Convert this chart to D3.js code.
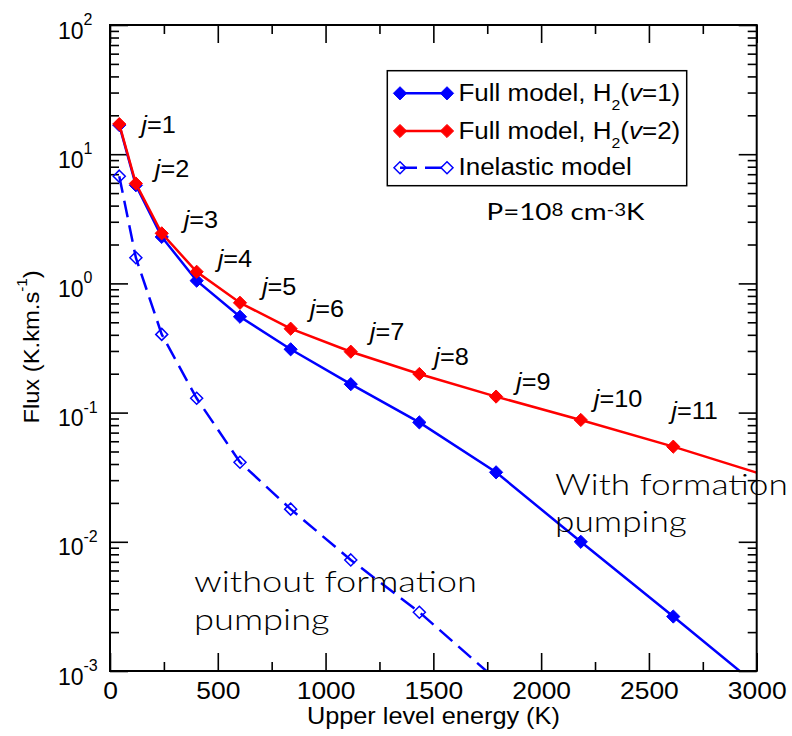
<!DOCTYPE html>
<html><head><meta charset="utf-8">
<script src="https://cdn.jsdelivr.net/npm/d3@7"></script>
<style>body{margin:0;background:#fff}svg{display:block}</style>
</head><body>
<svg id="c" width="792" height="736"></svg>
<script>
// ---------------- data ----------------
const energyK       = [43, 120, 240, 402, 603, 838, 1117, 1435, 1791, 2184, 2613, 3078];
const fluxFullV1    = [16.8, 5.75, 2.29, 1.05, 0.552, 0.309, 0.166, 0.084, 0.0345, 0.0100, 0.00264, 0.00061];
const fluxFullV2    = [17.1, 5.93, 2.44, 1.23, 0.708, 0.446, 0.296, 0.199, 0.133, 0.0877, 0.0545, 0.0312];
const fluxInelastic = [6.76, 1.58, 0.403, 0.129, 0.0413, 0.0179, 0.00724, 0.00285, 0.00086];
const jLevels       = [1, 2, 3, 4, 5, 6, 7, 8, 9, 10, 11];
const xTickValues   = [0, 500, 1000, 1500, 2000, 2500, 3000];
const yDecades      = [1e-3, 1e-2, 1e-1, 1e0, 1e1, 1e2];
const xLabel = "Upper level energy (K)";

// ---------------- layout ----------------
const L = 110, R = 756.7, T = 25, B = 671;
const HELV = "'Liberation Sans', Arial, Helvetica, sans-serif";
const GOTH = "Lato, 'Open Sans', sans-serif";
const jLabelOffsets = [[22,9],[19,-7],[22,-5],[21,-5],[22,-8],[19,-12],[19,-12],[15,-9],[20,-7],[13,-13],[-2,-28]];

const x = d3.scaleLinear().domain([0, 3000]).range([L, R]);
const y = d3.scaleLog().domain([1e-3, 1e2]).range([B, T]);
const svg = d3.select("#c");

// rich text helper
function rich(parent, segs, o) {
  const t = parent.append("text")
    .attr("font-family", o.family || HELV)
    .attr("font-size", o.size)
    .attr("font-weight", o.weight || "normal")
    .attr("text-anchor", o.anchor || "start")
    .attr("fill", "#000")
    .attr("transform", `translate(${o.x},${o.y})${o.rot ? ` rotate(${o.rot})` : ""} scale(${o.sx || 1},1)`);
  let cur = 0;
  segs.forEach(s => {
    const shift = s.shift || 0;
    const ts = t.append("tspan").text(s.t).attr("dy", shift - cur);
    cur = shift;
    if (s.size) ts.attr("font-size", s.size);
    if (s.it) ts.attr("font-style", "italic");
  });
  return t;
}
function fit(t, o, target) {
  const w = t.node().getBBox().width;
  const sx = target / w;
  t.attr("transform", `translate(${o.x},${o.y}) scale(${sx},1)`);
  return sx;
}

// clip
svg.append("defs").append("clipPath").attr("id", "clip")
  .append("rect").attr("x", L).attr("y", T).attr("width", R - L).attr("height", B - T);

// ---------------- axes (inward ticks) ----------------
const xMinor = d3.range(250, 3000, 500);
const yMinor = yDecades.slice(0, -1).flatMap(d => d3.range(2, 10).map(k => d * k));
function ticks(gen, tr, vals, size) {
  return svg.append("g").attr("transform", tr)
    .call(gen.tickValues(vals).tickSize(size).tickFormat(""))
    .call(g => g.select(".domain").remove())
    .call(g => g.selectAll("line").attr("stroke", "#000").attr("stroke-width", 1.6));
}
ticks(d3.axisBottom(x), `translate(0,${B})`, xMinor, -9);
ticks(d3.axisTop(x), `translate(0,${T})`, xMinor, -9);
ticks(d3.axisTop(x), `translate(0,${T})`, xTickValues, -18);
ticks(d3.axisLeft(y), `translate(${L},0)`, yMinor, -9);
ticks(d3.axisRight(y), `translate(${R},0)`, yMinor, -9);
ticks(d3.axisLeft(y), `translate(${L},0)`, yDecades, -18);
ticks(d3.axisRight(y), `translate(${R},0)`, yDecades, -18);
svg.append("g").attr("transform", `translate(0,${B})`)
  .call(d3.axisBottom(x).tickValues(xTickValues).tickSize(-18).tickPadding(11).tickFormat(d3.format("d")))
  .call(g => g.select(".domain").remove())
  .call(g => g.selectAll("line").attr("stroke", "#000").attr("stroke-width", 1.6))
  .call(g => g.selectAll("text").attr("font-family", HELV).attr("font-size", 24)
        .attr("fill", "#000").attr("transform", "scale(1.1,1)"));

// y tick labels 10^n
yDecades.forEach(d => {
  const e = Math.round(Math.log10(d));
  svg.append("text").attr("x", 83.5).attr("y", y(d) + 13.5)
    .attr("text-anchor", "end").attr("font-family", HELV).attr("font-size", 23).text("10");
  svg.append("text").attr("x", 83.5).attr("y", y(d))
    .attr("font-family", HELV).attr("font-size", 16).text(String(e));
});

// axis titles
rich(svg, [{t: xLabel}], {x: (L + R) / 2, y: 724, size: 23, sx: 1.1, anchor: "middle"});
rich(svg, [{t: "Flux (K.km.s"}, {t: "-1", size: 14, shift: -12}, {t: ")"}],
  {x: 39, y: 347, size: 22, sx: 1.08, anchor: "middle", rot: -90});

// ---------------- series ----------------
const series = [
  {vals: fluxFullV1, color: "#0000ff", dash: null, filled: true,
   label: [{t: "Full model, H"}, {t: "2", size: 14, shift: 9}, {t: "("}, {t: "v", it: true}, {t: "=1)"}]},
  {vals: fluxFullV2, color: "#ff0000", dash: null, filled: true,
   label: [{t: "Full model, H"}, {t: "2", size: 14, shift: 9}, {t: "("}, {t: "v", it: true}, {t: "=2)"}]},
  {vals: fluxInelastic, color: "#0000ff", dash: "17,8", filled: false,
   label: [{t: "Inelastic model"}]}
];
const diamond = r => `M0,${-r}L${r},0L0,${r}L${-r},0Z`;
const line = d3.line().x(d => x(d[0])).y(d => y(d[1]));
const plot = svg.append("g").attr("clip-path", "url(#clip)");
function marker(g, s) {
  return g.append("path")
    .attr("d", diamond(s.filled ? 6.6 : 6))
    .attr("fill", s.filled ? s.color : "none")
    .attr("stroke", s.color).attr("stroke-width", s.filled ? 1 : 1.5);
}
series.forEach(s => {
  const pts = s.vals.map((v, i) => [energyK[i], v]);
  plot.append("path").datum(pts).attr("d", line)
    .attr("fill", "none").attr("stroke", s.color).attr("stroke-width", 2.5)
    .attr("stroke-dasharray", s.dash);
  pts.forEach(p => marker(plot, s).attr("transform", `translate(${x(p[0])},${y(p[1])})`));
});

// j labels
jLevels.forEach((j, i) => {
  const [dx, dy] = jLabelOffsets[i];
  rich(svg, [{t: "j", it: true}, {t: "=" + j}],
    {x: x(energyK[i]) + dx, y: y(fluxFullV2[i]) + dy, size: 23, sx: 1.1});
});

// frame
svg.append("rect").attr("x", L).attr("y", T).attr("width", R - L).attr("height", B - T)
  .attr("fill", "none").attr("stroke", "#000").attr("stroke-width", 2);

// ---------------- legend ----------------
const leg = svg.append("g");
leg.append("rect").attr("x", 387.3).attr("y", 70.7).attr("width", 299.4).attr("height", 115)
  .attr("fill", "#fff").attr("stroke", "#000").attr("stroke-width", 1.5);
const rowY = [93.3, 131, 167.7];
series.forEach((s, i) => {
  const yy = rowY[i];
  leg.append("line").attr("x1", 400).attr("x2", 447).attr("y1", yy).attr("y2", yy)
    .attr("stroke", s.color).attr("stroke-width", 2.5).attr("stroke-dasharray", s.dash);
  [400, 447].forEach(xx => marker(leg, s).attr("transform", `translate(${xx},${yy})`));
  rich(leg, s.label, {x: 458.5, y: yy + 7.5, size: 23, sx: 1.13});
});

// ---------------- annotations ----------------
const pO = {x: 486.5, y: 220, size: 23, family: GOTH};
const pT = rich(svg, [{t: "P=10"}, {t: "8", size: 17, shift: -4.5}, {t: " cm"}, {t: "-3", size: 17, shift: -4.5}, {t: "K"}], pO);
fit(pT, pO, 159);

const w1 = {x: 555, y: 495, size: 30, family: GOTH, weight: 300};
const sxA = fit(rich(svg, [{t: "With formation"}], w1), w1, 233);
rich(svg, [{t: "pumping"}], {x: 555, y: 532, size: 30, family: GOTH, weight: 300, sx: sxA});

const w2 = {x: 194, y: 592, size: 30, family: GOTH, weight: 300};
const sxB = fit(rich(svg, [{t: "without formation"}], w2), w2, 283);
rich(svg, [{t: "pumping"}], {x: 194, y: 630, size: 30, family: GOTH, weight: 300, sx: sxB});
</script>
</body></html>
